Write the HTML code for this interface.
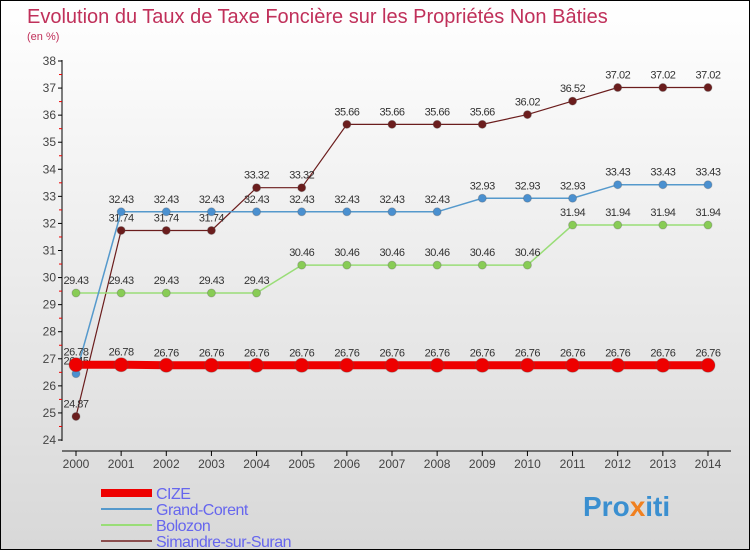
<!DOCTYPE html>
<html><head><meta charset="utf-8"><style>
body{margin:0;width:750px;height:550px;overflow:hidden;font-family:"Liberation Sans",sans-serif}
#c{position:relative;width:748px;height:548px;border:1px solid #000;background:linear-gradient(#fff,#d8d8d8)}
</style></head><body>
<div id="c">
<svg id="s" width="748" height="548" style="position:absolute;left:0;top:0">
<text x="26" y="22" font-size="20" fill="#c0305a">Evolution du Taux de Taxe Foncière sur les Propriétés Non Bâties</text>
<text x="26" y="39" font-size="11" fill="#c0305a">(en %)</text>
<g id="axes"></g><g id="series"></g><g id="legend"></g>
<text x="582" y="515" font-size="28" font-weight="bold" fill="#3a8fd0">Pro<tspan fill="#f08020">x</tspan>iti</text>
</svg></div>
<script>
const years=[2000,2001,2002,2003,2004,2005,2006,2007,2008,2009,2010,2011,2012,2013,2014];
const cize=[26.78,26.78,26.76,26.76,26.76,26.76,26.76,26.76,26.76,26.76,26.76,26.76,26.76,26.76,26.76];
const grand=[26.45,32.43,32.43,32.43,32.43,32.43,32.43,32.43,32.43,32.93,32.93,32.93,33.43,33.43,33.43];
const bolozon=[29.43,29.43,29.43,29.43,29.43,30.46,30.46,30.46,30.46,30.46,30.46,31.94,31.94,31.94,31.94];
const simandre=[24.87,31.74,31.74,31.74,33.32,33.32,35.66,35.66,35.66,35.66,36.02,36.52,37.02,37.02,37.02];
const yTicks=[24,25,26,27,28,29,30,31,32,33,34,35,36,37,38];
const NS="http://www.w3.org/2000/svg";
const X=i=>75+i*(707-75)/14;
const Y=v=>439-(v-24)*(379/14);
function el(t,a,p){const e=document.createElementNS(NS,t);for(const k in a)e.setAttribute(k,a[k]);p.appendChild(e);return e;}
const ax=document.getElementById('axes');
let e=el('line',{x1:61,y1:59,x2:61,y2:440,stroke:'#000'},ax);

e=el('line',{x1:61,y1:450,x2:730,y2:450,stroke:'#000'},ax);

yTicks.forEach(v=>{
 el('line',{x1:57,y1:Y(v),x2:61,y2:Y(v),stroke:'#000'},ax);
 if(v<38)el('line',{x1:58,y1:Y(v+0.5),x2:61,y2:Y(v+0.5),stroke:'#e00'},ax);
 const t=el('text',{x:55,y:Y(v)+4,'font-size':12,fill:'#444','text-anchor':'end'},ax);t.textContent=v;
 
});
years.forEach((y,i)=>{
 el('line',{x1:X(i),y1:450,x2:X(i),y2:455,stroke:'#000'},ax);
 const t=el('text',{x:X(i),y:467,'font-size':12,fill:'#444','text-anchor':'middle'},ax);t.textContent=y;
 
});
const sg=document.getElementById('series');
function draw(vals,color,w,r,name,dot){
 const g=el('g',{},sg);
 el('polyline',{points:vals.map((v,i)=>X(i)+','+Y(v)).join(' '),fill:'none',stroke:color,'stroke-width':w},g);
 vals.forEach((v,i)=>{
  const c=el('circle',{cx:X(i),cy:Y(v),r:r,fill:dot,stroke:'#555','stroke-opacity':0.3},g);
  
  const t=el('text',{x:X(i),y:Y(v)-9,'font-size':11,fill:'#333','text-anchor':'middle','letter-spacing':'-0.5'},g);
  t.textContent=v.toFixed(2).replace(/0$/,'').replace(/\.$/,'');
  t.textContent=String(v);
  
 });
}
draw(simandre,'#6b1d1d',1.2,4,'simandre','#6b1d1d');
draw(bolozon,'#99dd77',1.5,4,'bolozon','#88cc55');
draw(grand,'#5599cc',1.5,4,'grand-corent','#4a90d0');
draw(cize,'#ee0000',8,7,'cize','#ee0000');
const lg=document.getElementById('legend');
[['CIZE','#ee0000',8],['Grand-Corent','#5599cc',2],['Bolozon','#99dd77',2],['Simandre-sur-Suran','#8b4d4d',2]].forEach((d,i)=>{
 const y=492+i*16;
 const l=el('line',{x1:100,y1:y,x2:151,y2:y,stroke:d[1],'stroke-width':d[2]},lg);
 
 const t=el('text',{x:155,y:y+6,'font-size':16,fill:'#6666ee','letter-spacing':'-0.5'},lg);t.textContent=d[0];
 
});
</script></body></html>
